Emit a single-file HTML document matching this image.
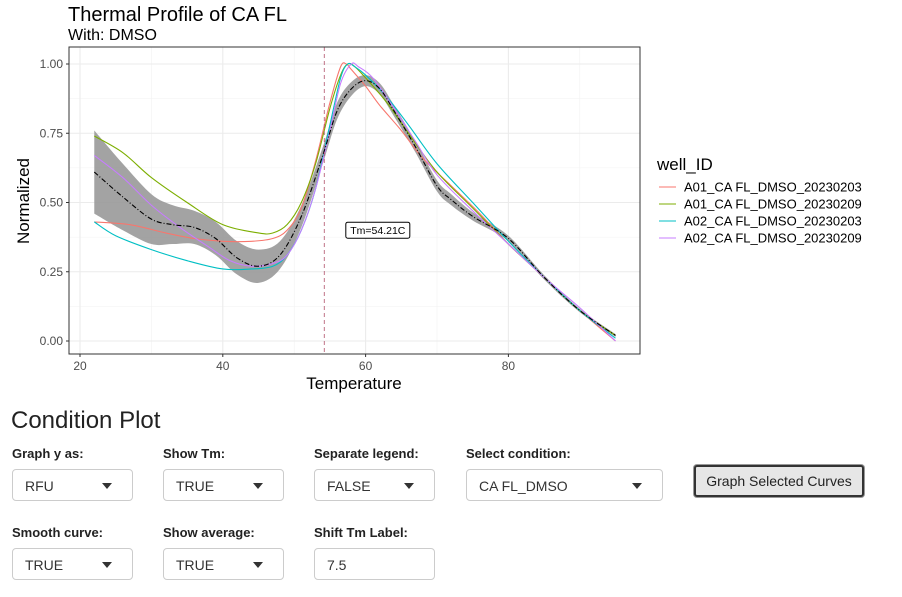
<!DOCTYPE html>
<html><head><meta charset="utf-8"><style>
body{margin:0;width:902px;height:597px;background:#fff;font-family:"Liberation Sans",Arial,sans-serif;position:relative;overflow:hidden}
.abs{position:absolute}
.lbl{position:absolute;font-weight:bold;font-size:13px;color:#222}
.sel{position:absolute;border:1px solid #ccc;border-radius:4px;height:32px;box-sizing:border-box;font-size:14px;color:#333;padding:8px 12px;background:#fff}
.sel .arr{position:absolute;right:20px;top:13px;width:0;height:0;border-left:5px solid transparent;border-right:5px solid transparent;border-top:6px solid #333}
</style></head><body>
<svg class="abs" style="left:0;top:0" width="902" height="400">
<text x="68" y="21" font-size="20" fill="#000">Thermal Profile of CA FL</text>
<text x="68" y="40" font-size="16" fill="#000">With: DMSO</text>
<g id="grid"></g>
<g id="marks"></g>
<rect x="69" y="47" width="571" height="307" fill="none" stroke="#333" stroke-width="1"/>
<g id="ticks"></g>
<text x="354" y="389" font-size="17" text-anchor="middle">Temperature</text>
<text transform="translate(29,201) rotate(-90)" font-size="17" text-anchor="middle">Normalized</text>
<text x="657" y="170" font-size="17">well_ID</text>
<g id="legend"></g>
</svg>
<div class="abs" style="left:11px;top:407px;font-size:24px;color:#222">Condition Plot</div>
<div class="lbl" style="left:12px;top:446px">Graph y as:</div>
<div class="lbl" style="left:163px;top:446px">Show Tm:</div>
<div class="lbl" style="left:314px;top:446px">Separate legend:</div>
<div class="lbl" style="left:466px;top:446px">Select condition:</div>
<div class="sel" style="left:12px;top:469px;width:121px">RFU<span class="arr"></span></div>
<div class="sel" style="left:163px;top:469px;width:121px">TRUE<span class="arr"></span></div>
<div class="sel" style="left:314px;top:469px;width:121px">FALSE<span class="arr"></span></div>
<div class="sel" style="left:466px;top:469px;width:197px">CA FL_DMSO<span class="arr"></span></div>
<div class="abs" style="left:694px;top:465px;width:170px;height:32px;box-sizing:border-box;border:2px solid #333;border-radius:3px;background:#e6e6e6;font-size:14px;text-align:center;line-height:28px;color:#222;box-shadow:0 0 0 1px #999">Graph Selected Curves</div>
<div class="lbl" style="left:12px;top:525px">Smooth curve:</div>
<div class="lbl" style="left:163px;top:525px">Show average:</div>
<div class="lbl" style="left:314px;top:525px">Shift Tm Label:</div>
<div class="sel" style="left:12px;top:548px;width:121px">TRUE<span class="arr"></span></div>
<div class="sel" style="left:163px;top:548px;width:121px">TRUE<span class="arr"></span></div>
<div class="sel" style="left:314px;top:548px;width:121px">7.5</div>
<script>
const seriesNames=["A01_CA FL_DMSO_20230203","A01_CA FL_DMSO_20230209","A02_CA FL_DMSO_20230203","A02_CA FL_DMSO_20230209"];
const seriesColors=["#F8766D","#7CAE00","#00BFC4","#C77CFF"];
const redT=[22,27,32,36,40,44,47,49,51,53,55,56.5,57.3,58,60,62,65,68,72,76,80,85,90,95];
const redV=[0.43,0.42,0.39,0.37,0.36,0.36,0.37,0.40,0.48,0.65,0.86,0.99,1.0,0.98,0.92,0.85,0.76,0.66,0.56,0.46,0.35,0.23,0.11,0.0];
const greenT=[22,26,30,35,40,45,47,49,51,53,55,56.5,57.5,58.5,60,63,66,70,75,80,85,90,95];
const greenV=[0.74,0.68,0.59,0.50,0.42,0.39,0.39,0.42,0.50,0.64,0.84,0.96,1.0,0.99,0.95,0.86,0.75,0.61,0.48,0.35,0.23,0.11,0.02];
const cyanT=[22,25,30,35,40,44,47,49,51,53,55,56.5,57.5,58.5,60,63,66,70,75,80,85,90,95];
const cyanV=[0.43,0.38,0.33,0.29,0.26,0.26,0.27,0.31,0.40,0.55,0.78,0.95,1.0,0.99,0.96,0.88,0.78,0.64,0.50,0.36,0.23,0.11,0.01];
const purpleT=[22,26,30,34,38,41,44,47,49,51,53,55,56.5,58,59,61,64,67,70,75,80,85,90,95];
const purpleV=[0.67,0.59,0.49,0.41,0.34,0.29,0.27,0.28,0.31,0.40,0.55,0.76,0.93,1.0,0.99,0.95,0.84,0.72,0.60,0.47,0.35,0.23,0.12,0.0];
const avgT=[22,26,30,33,36,39,42,45,48,51,54,56,58,60,62,64,67,70,72,75,80,85,90,95];
const avgV=[0.61,0.52,0.44,0.42,0.41,0.37,0.30,0.27,0.31,0.45,0.67,0.83,0.91,0.94,0.91,0.83,0.70,0.56,0.51,0.45,0.37,0.23,0.11,0.02];
const avgSE=[0.15,0.12,0.09,0.07,0.06,0.06,0.06,0.06,0.05,0.04,0.03,0.03,0.025,0.02,0.02,0.02,0.02,0.02,0.02,0.015,0.01,0.008,0.006,0.005];
const tmValue=54.21;
const xTicks=[20,40,60,80];
const yTicks=[0,0.25,0.5,0.75,1.0];
const yTickLabels=["0.00","0.25","0.50","0.75","1.00"];
const NS="http://www.w3.org/2000/svg";
function sx(t){return 80+(t-20)*7.14;}
function sy(v){return 341-v*277;}
function mk(tag,attrs,parent){const e=document.createElementNS(NS,tag);for(const k in attrs)e.setAttribute(k,attrs[k]);parent.appendChild(e);return e;}
function smooth(pts){let d="M"+pts[0][0]+","+pts[0][1];for(let i=0;i<pts.length-1;i++){const p0=pts[i-1]||pts[i],p1=pts[i],p2=pts[i+1],p3=pts[i+2]||p2;const c1=[p1[0]+(p2[0]-p0[0])/6,p1[1]+(p2[1]-p0[1])/6],c2=[p2[0]-(p3[0]-p1[0])/6,p2[1]-(p3[1]-p1[1])/6];d+=" C"+c1[0]+","+c1[1]+" "+c2[0]+","+c2[1]+" "+p2[0]+","+p2[1];}return d;}
const grid=document.getElementById('grid'),marks=document.getElementById('marks'),ticks=document.getElementById('ticks'),leg=document.getElementById('legend');
mk('rect',{x:69,y:47,width:571,height:307,fill:'#fff'},grid);
[30,50,70,90].forEach(t=>{mk('line',{x1:sx(t),x2:sx(t),y1:47,y2:354,stroke:'#f2f2f2','stroke-width':0.6},grid);});
[0.125,0.375,0.625,0.875].forEach(v=>{mk('line',{x1:69,x2:640,y1:sy(v),y2:sy(v),stroke:'#f2f2f2','stroke-width':0.6},grid);});
xTicks.forEach(t=>{const l=mk('line',{x1:sx(t),x2:sx(t),y1:47,y2:354,stroke:'#ebebeb','stroke-width':1.1},grid);
 mk('line',{x1:sx(t),x2:sx(t),y1:354,y2:357,stroke:'#333'},ticks);
 const tx=mk('text',{x:sx(t),y:370,'font-size':12,'text-anchor':'middle',fill:'#4d4d4d'},ticks);tx.textContent=t;});
yTicks.forEach((v,i)=>{const l=mk('line',{x1:69,x2:640,y1:sy(v),y2:sy(v),stroke:'#ebebeb','stroke-width':1.1},grid);
 mk('line',{x1:66,x2:69,y1:sy(v),y2:sy(v),stroke:'#333'},ticks);
 const tx=mk('text',{x:63,y:sy(v)+4,'font-size':12,'text-anchor':'end',fill:'#4d4d4d'},ticks);tx.textContent=yTickLabels[i];});
// ribbon
const up=avgT.map((t,i)=>[sx(t),sy(avgV[i]+avgSE[i])]);const lo=avgT.map((t,i)=>[sx(t),sy(avgV[i]-avgSE[i])]).reverse();
const rib=mk('path',{d:smooth(up)+" L"+lo[0][0]+","+lo[0][1]+smooth(lo).replace(/^M[^ ]+/,"")+" Z",fill:'#999','fill-opacity':0.9},marks);

const allT=[redT,greenT,cyanT,purpleT],allV=[redV,greenV,cyanV,purpleV];
allT.forEach((ts,s)=>{const p=mk('path',{d:smooth(ts.map((t,i)=>[sx(t),sy(allV[s][i])])),fill:'none',stroke:seriesColors[s],'stroke-width':1.1},marks);
 });
const av=mk('path',{d:smooth(avgT.map((t,i)=>[sx(t),sy(avgV[i])])),fill:'none',stroke:'#000','stroke-width':1.1,'stroke-dasharray':'5,2,1,2'},marks);

const vl=mk('line',{x1:sx(tmValue),x2:sx(tmValue),y1:47,y2:354,stroke:'#b0506a','stroke-width':0.8,'stroke-dasharray':'4,3'},marks);

const lx=sx(tmValue+7.5),ly=sy(0.4);
const bx=mk('rect',{x:lx-32,y:ly-8,width:64,height:16,rx:2,fill:'#fff',stroke:'#000','stroke-width':1},marks);
const lt=mk('text',{x:lx,y:ly+4,'font-size':10.5,'text-anchor':'middle'},marks);lt.textContent="Tm="+tmValue.toFixed(2)+"C";
seriesNames.forEach((n,i)=>{const y=187+i*17;const g=mk('g',{},leg);
 mk('line',{x1:659,x2:676,y1:y,y2:y,stroke:seriesColors[i],'stroke-width':1.1},g);
 const t=mk('text',{x:684,y:y+4.5,'font-size':13,fill:'#000'},g);t.textContent=n;});
</script>
</body></html>
